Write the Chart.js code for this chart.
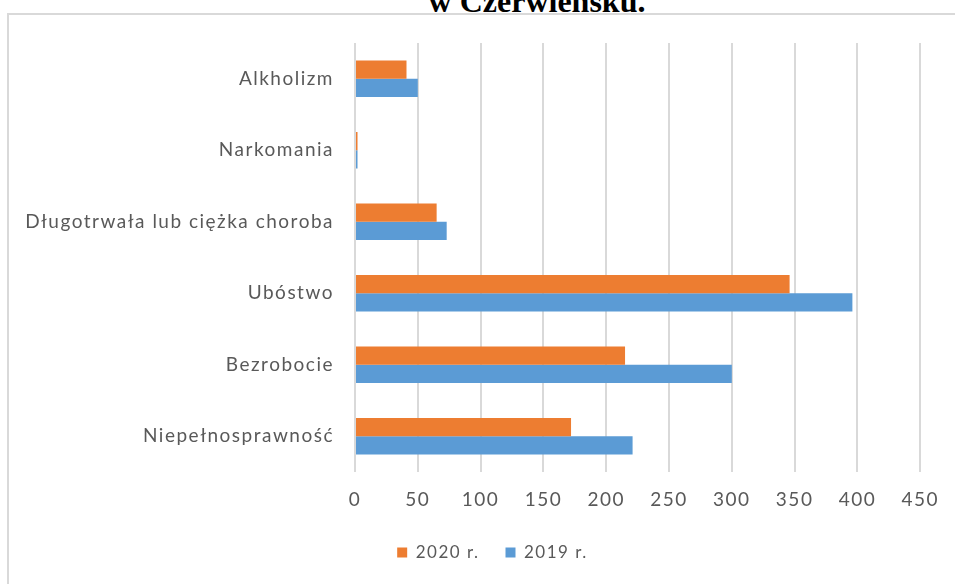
<!DOCTYPE html>
<html>
<head>
<meta charset="utf-8">
<script src="https://cdn.jsdelivr.net/npm/chart.js@4.4.1/dist/chart.umd.min.js"></script>
<style>
  html, body { margin: 0; padding: 0; background: #fff; overflow: hidden; }
  #wrap { position: relative; width: 955px; height: 584px; }
  #frame { position: absolute; left: 7px; top: 13px; width: 1000px; height: 620px;
           border: 2px solid #d9d9d9; box-sizing: border-box; }
  #title { position: absolute; left: 0; width: 1074px; top: -15px; text-align: center;
           font: bold 32px "Liberation Serif", "Times New Roman", serif; color: #000; line-height: 32px;
           white-space: nowrap; }
  #c { position: absolute; left: 0; top: 0; }
</style>
</head>
<body>
<div id="wrap">
  <div id="frame"></div>
  <div id="title">w Czerwieńsku.</div>
  <canvas id="c" width="955" height="584"></canvas>
</div>
<script>
var categories = ['Alkholizm', 'Narkomania', 'Długotrwała lub ciężka choroba', 'Ubóstwo', 'Bezrobocie', 'Niepełnosprawność'];
var values2020 = [41, 2, 65, 346, 215, 172];
var values2019 = [50, 2, 73, 396, 300, 221];
var seriesLabels = ['2020 r.', '2019 r.'];
var xTicks = [0, 50, 100, 150, 200, 250, 300, 350, 400, 450];

var labelFont = { family: 'Lato, "Open Sans", sans-serif', size: 19 };
var legendFont = { family: 'Lato, "Open Sans", sans-serif', size: 17 };

// wider letter spacing for all canvas text
var spacing = {
    id: 'spacing',
    beforeUpdate: function (chart) { chart.ctx.letterSpacing = '1.5px'; },
    beforeDraw: function (chart) { chart.ctx.letterSpacing = '1.5px'; }
};

// legend sits a bit right of the canvas centre
var legendShift = {
    id: 'legendShift',
    afterLayout: function (chart) {
        chart.legend.left += 27;
        chart.legend.right += 27;
    }
};

var ctx = document.getElementById('c').getContext('2d');
var chart = new Chart(ctx, {
    type: 'bar',
    data: {
        labels: categories,
        datasets: [{
            label: seriesLabels[0],
            data: values2020,
            backgroundColor: '#ED7D31',
            borderWidth: 0
        }, {
            label: seriesLabels[1],
            data: values2019,
            backgroundColor: '#5B9BD5',
            borderWidth: 0
        }]
    },
    plugins: [spacing, legendShift],
    options: {
        indexAxis: 'y',
        responsive: false,
        animation: false,
        datasets: { bar: { categoryPercentage: 0.51, barPercentage: 1.0 } },
        layout: { padding: { left: 10, right: 34, top: 43, bottom: 13 } },
        scales: {
            x: {
                min: xTicks[0],
                max: xTicks[xTicks.length - 1],
                afterBuildTicks: function (scale) {
                    scale.ticks = xTicks.map(function (v) { return { value: v }; });
                },
                grid: { color: '#d9d9d9', lineWidth: 2, drawTicks: false },
                border: { display: false },
                ticks: { color: '#595959', font: labelFont, padding: 16, maxRotation: 0 },
                afterFit: function (scale) { scale.height = 46; }
            },
            y: {
                grid: { display: false, drawTicks: false },
                border: { display: false },
                ticks: { color: '#595959', font: labelFont, padding: 21 },
                afterFit: function (scale) { scale.width = 345; }
            }
        },
        plugins: {
            legend: {
                position: 'bottom',
                labels: {
                    color: '#595959',
                    font: legendFont,
                    boxWidth: 10,
                    boxHeight: 10,
                    padding: 26
                }
            },
            tooltip: { enabled: false }
        }
    }
});
</script>
</body>
</html>
